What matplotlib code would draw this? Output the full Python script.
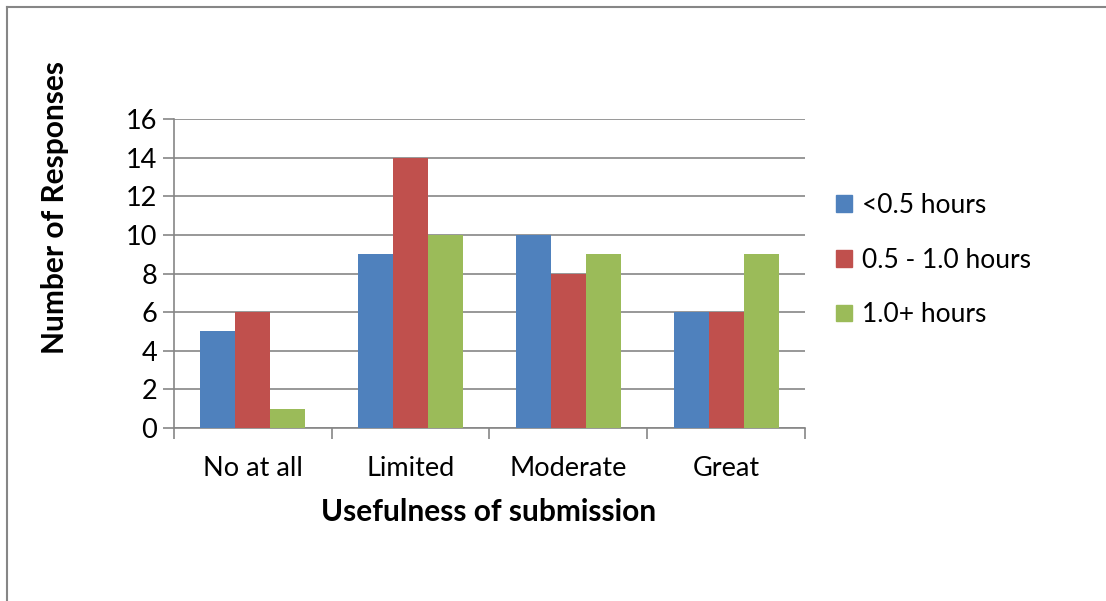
import numpy as np
import matplotlib.pyplot as plt
from matplotlib.patches import Patch

categories = ['No at all', 'Limited', 'Moderate', 'Great']
series_names = ['<0.5 hours', '0.5 - 1.0 hours', '1.0+ hours']
under_half = [5, 9, 10, 6]
half_to_one = [6, 14, 8, 6]
over_one = [1, 10, 9, 9]
colors = ['#4F81BD', '#C0504D', '#9BBB59']

plt.rcParams['font.family'] = ['Lato', 'DejaVu Sans']

fig = plt.figure(figsize=(11.06, 6.01), dpi=100)
# outer chart border (left and top visible)
fig.add_artist(plt.Line2D([7/1106, 7/1106], [0, 1 - 7/601], color='#868686', lw=1.5))
fig.add_artist(plt.Line2D([7/1106, 1], [1 - 7/601, 1 - 7/601], color='#868686', lw=1.5))

ax = fig.add_axes([174/1106, 1 - 428/601, 631/1106, 309/601])

x = np.arange(len(categories))
w = 1 / 4.5
for i, vals in enumerate([under_half, half_to_one, over_one]):
  ax.bar(x + (i - 1) * w, vals, w, color=colors[i], zorder=3)

ax.set_xlim(-0.5, 3.5)
ax.set_ylim(0, 16)
ax.set_yticks(range(0, 17, 2))
ax.yaxis.grid(True, color='#868686', lw=1.2, zorder=0)
ax.tick_params(axis='y', length=8, width=1.2, color='#868686', labelsize=19.5, pad=4)
ax.set_xticks(np.arange(-0.5, 4, 1))
ax.set_xticklabels([])
ax.tick_params(axis='x', length=8, width=1.2, color='#868686')
for xi, c in zip(x, categories):
  ax.text(xi, -2.1, c, ha='center', va='center', fontsize=19.5)

for s in ['top', 'right']:
  ax.spines[s].set_visible(False)
for s in ['left', 'bottom']:
  ax.spines[s].set_color('#868686')
  ax.spines[s].set_linewidth(1.2)

fig.text(489/1106, 1 - 512/601, 'Usefulness of submission', ha='center', va='center',
         fontsize=21.5, fontweight='bold')
fig.text(55/1106, 1 - 207/601, 'Number of Responses', ha='center', va='center',
         fontsize=21.5, fontweight='bold', rotation=90)

handles = [Patch(color=c) for c in colors]
fig.legend(handles, series_names, loc='center left', bbox_to_anchor=(812/1106, 1 - 260/601),
           frameon=False, fontsize=19, handlelength=0.6, handleheight=0.6,
           handletextpad=0.4, labelspacing=1.13)

plt.savefig('out.png', dpi=100)
